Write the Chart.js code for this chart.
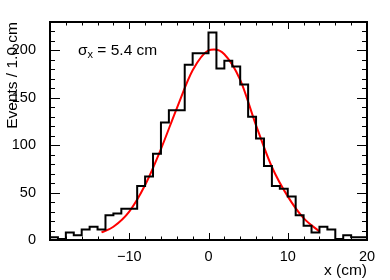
<!DOCTYPE html>
<html>
<head>
<meta charset="utf-8">
<script src="https://cdn.jsdelivr.net/npm/chart.js@4.4.0/dist/chart.umd.min.js"></script>
<style>
  html, body { margin: 0; padding: 0; background: #fff; }
  #wrap { width: 390px; height: 280px; }
</style>
</head>
<body>
<div id="wrap"><canvas id="chartHist" width="390" height="280"></canvas></div>
<script>
// histogram, 1 cm bins from -20 to 20
const binLow = -20;
const binWidth = 1;
const counts = [3, 1, 8, 5, 11, 14, 11, 26, 28, 33,
                33, 57, 67, 91, 124, 137, 137, 185, 197, 197,
                219, 181, 189, 183, 164, 130, 107, 78, 57, 54,
                46, 26, 15, 8, 14, 11, 1, 5, 3, 3];

// gaussian fit curve
const fitX = [-13.5, -12, -10, -8, -6, -4, -2, 0, 0.7, 2, 4, 6, 8, 10, 12, 14];
const fitY = [8, 14, 30, 58, 96, 139, 179, 200, 201, 196, 169, 121, 77, 46, 23, 9];

const xTicks = [-20, -10, 0, 10, 20];
const yTicks = [0, 50, 100, 150, 200];
const sigmaText = '5.4 cm';

const fontFam = '"Liberation Sans", Arial, Helvetica, sans-serif';

function histPoints() {
    const pts = counts.map((c, i) => ({ x: binLow + i * binWidth, y: c }));
    // close the last bin at its right edge
    pts.push({ x: binLow + counts.length * binWidth, y: counts[counts.length - 1] });
    return pts;
}

function minus(v) {
    return v < 0 ? '\u2212' + Math.abs(v) : String(v);
}

// ROOT style frame with ticks pointing inward
const framePlugin = {
    id: 'frame',
    afterDraw(chart) {
        const { ctx, chartArea: a, scales: { x, y } } = chart;
        ctx.save();
        ctx.strokeStyle = '#000';
        ctx.lineWidth = 1;
        ctx.beginPath();
        for (let v = x.min; v <= x.max; v += 2) {
            const px = Math.round(x.getPixelForValue(v)) + 0.5;
            const len = v % 10 === 0 ? 7 : 3.5;
            ctx.moveTo(px, a.bottom); ctx.lineTo(px, a.bottom - len);
            ctx.moveTo(px, a.top); ctx.lineTo(px, a.top + len);
        }
        for (let v = y.min; v <= y.max; v += 10) {
            const py = Math.round(y.getPixelForValue(v)) + 0.5;
            const len = v % 50 === 0 ? 10 : 5;
            ctx.moveTo(a.left, py); ctx.lineTo(a.left + len, py);
            ctx.moveTo(a.right, py); ctx.lineTo(a.right - len, py);
        }
        ctx.stroke();
        ctx.lineWidth = 2;
        ctx.strokeRect(a.left, a.top, a.right - a.left, a.bottom - a.top);

        // sigma label
        ctx.fillStyle = '#000';
        ctx.textBaseline = 'alphabetic';
        ctx.textAlign = 'left';
        let tx = 78, ty = 55;
        ctx.font = '15.5px ' + fontFam;
        ctx.fillText('\u03c3', tx, ty);
        tx += ctx.measureText('\u03c3').width;
        ctx.font = '11px ' + fontFam;
        ctx.fillText('x', tx, ty + 3);
        tx += ctx.measureText('x').width;
        ctx.font = '15.5px ' + fontFam;
        ctx.fillText(' = ' + sigmaText, tx, ty);
        ctx.restore();
    }
};

const ctx = document.getElementById('chartHist');
new Chart(ctx.getContext('2d'), {
    type: 'line',
    data: {
        datasets: [{
            data: histPoints(),
            stepped: 'before',
            borderColor: '#000',
            borderWidth: 2,
            pointRadius: 0,
            fill: false
        }, {
            data: fitX.map((v, i) => ({ x: v, y: fitY[i] })),
            borderColor: '#ff0000',
            borderWidth: 2,
            pointRadius: 0,
            cubicInterpolationMode: 'monotone',
            fill: false
        }]
    },
    options: {
        responsive: false,
        devicePixelRatio: 1,
        animation: false,
        layout: { padding: { top: 22, right: 23, left: 0, bottom: 0 } },
        plugins: {
            legend: { display: false },
            tooltip: { enabled: false }
        },
        scales: {
            x: {
                type: 'linear',
                min: -20,
                max: 20,
                afterBuildTicks: s => { s.ticks = xTicks.map(v => ({ value: v })); },
                afterFit: s => { s.height = 40; },
                ticks: {
                    callback: v => (v === -20 ? '' : minus(v)),
                    color: '#000',
                    font: { family: fontFam, size: 14.5 },
                    padding: 0,
                    maxRotation: 0,
                    autoSkip: false
                },
                grid: { display: false },
                border: { display: false },
                title: {
                    display: true,
                    text: 'x (cm)',
                    align: 'end',
                    color: '#000',
                    font: { family: fontFam, size: 15.5 },
                    padding: { top: 0, bottom: 0 }
                }
            },
            y: {
                min: 0,
                max: 230,
                afterBuildTicks: s => { s.ticks = yTicks.map(v => ({ value: v })); },
                afterFit: s => { s.width = 50; },
                ticks: {
                    color: '#000',
                    font: { family: fontFam, size: 14.5 },
                    padding: 6,
                    autoSkip: false
                },
                grid: { display: false },
                border: { display: false },
                title: {
                    display: true,
                    text: 'Events / 1.0 cm',
                    align: 'end',
                    color: '#000',
                    font: { family: fontFam, size: 15.5 },
                    padding: { top: 3, bottom: 0 }
                }
            }
        }
    },
    plugins: [framePlugin]
});
</script>
</body>
</html>
